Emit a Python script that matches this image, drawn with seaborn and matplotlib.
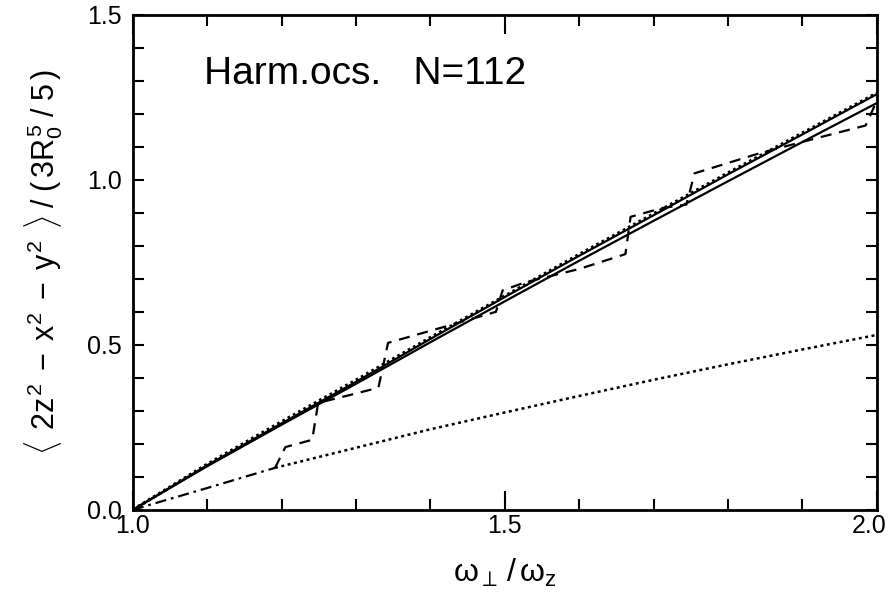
import matplotlib
matplotlib.use("Agg")
import matplotlib.pyplot as plt
import matplotlib.transforms as mtrans
import seaborn as sns
from matplotlib.ticker import MultipleLocator

# frequency ratio grid for the smooth curves
omega = [1.0, 1.1, 1.2, 1.3, 1.4, 1.5, 1.6, 1.7, 1.8, 1.9, 2.0]
q_upper = [0.0, 0.135, 0.262, 0.388, 0.518, 0.645, 0.770, 0.893, 1.017, 1.138, 1.260]
q_upper_dot = [0.0, 0.138, 0.267, 0.393, 0.522, 0.648, 0.774, 0.897, 1.021, 1.142, 1.263]
q_lower = [0.0, 0.132, 0.258, 0.382, 0.508, 0.632, 0.755, 0.876, 0.996, 1.115, 1.233]

# shell-structure curve (dashed)
omega_shell = [1.191, 1.205, 1.241, 1.249, 1.292, 1.330, 1.343, 1.427, 1.488, 1.497,
               1.528, 1.600, 1.662, 1.669, 1.712, 1.744, 1.755, 1.844, 1.925, 1.985, 1.998]
q_shell = [0.127, 0.190, 0.212, 0.324, 0.348, 0.370, 0.506, 0.560, 0.600, 0.665,
           0.690, 0.730, 0.775, 0.888, 0.915, 0.925, 1.020, 1.082, 1.130, 1.165, 1.230]

# low curve: dash-dot part then dotted part
omega_dd = [1.0, 1.1, 1.191]
q_dd = [0.0, 0.066, 0.127]
omega_dot = [1.191, 1.3, 1.4, 1.5, 1.6, 1.7, 1.8, 1.9, 2.0]
q_dot = [0.127, 0.188, 0.244, 0.295, 0.345, 0.394, 0.441, 0.486, 0.530]

x_ticks = [1.0, 1.5, 2.0]
y_ticks = [0.0, 0.5, 1.0, 1.5]

sns.set_theme(style="ticks")
plt.rcParams["font.family"] = ["Liberation Sans", "DejaVu Sans"]
plt.rcParams["mathtext.fontset"] = "custom"
plt.rcParams["mathtext.rm"] = "Liberation Sans"
plt.rcParams["mathtext.it"] = "Liberation Sans"
plt.rcParams["mathtext.sf"] = "Liberation Sans"

fig = plt.figure(figsize=(8.92, 5.99), dpi=100)
ax = fig.add_axes([0.149, 0.149, 0.834, 0.826])

kw = dict(color="black", estimator=None, sort=False, ax=ax, legend=False)
sns.lineplot(x=omega, y=q_upper, lw=1.6, **kw)
sns.lineplot(x=omega, y=q_upper_dot, lw=2.4, linestyle=(0, (0.8, 1.0)), **kw)
sns.lineplot(x=omega, y=q_lower, lw=1.6, **kw)
sns.lineplot(x=omega_shell, y=q_shell, lw=1.6, linestyle=(0, (5, 3.5)), **kw)
sns.lineplot(x=omega_dd, y=q_dd, lw=1.6, linestyle=(0, (5, 2.2, 1.2, 2.2)), **kw)
sns.lineplot(x=omega_dot, y=q_dot, lw=1.8, linestyle=(0, (1.2, 1.4)), **kw)

ax.set_xlim(1.0, 2.0)
ax.set_ylim(0.0, 1.5)
ax.set_xticks(x_ticks, labels=[f"{v:.1f}" for v in x_ticks])
ax.set_yticks(y_ticks, labels=[f"{v:.1f}" for v in y_ticks])
ax.xaxis.set_minor_locator(MultipleLocator(0.1))
ax.yaxis.set_minor_locator(MultipleLocator(0.1))

ax.tick_params(axis="both", which="both", direction="in", top=True, right=True,
               color="black", width=1.5, labelsize=18, labelcolor="black")
ax.tick_params(axis="x", which="major", length=14, pad=3)
ax.tick_params(axis="x", which="minor", length=8)
ax.tick_params(axis="y", which="major", length=8, pad=8)
ax.tick_params(axis="y", which="minor", length=8)
for sp in ax.spines.values():
    sp.set_visible(True)
    sp.set_linewidth(2)
    sp.set_color("black")

# keep the last x tick label inside the canvas
last = ax.get_xticklabels()[-1]
last.set_horizontalalignment("right")
last.set_transform(last.get_transform()
                   + mtrans.ScaledTranslation(0.10, 0, fig.dpi_scale_trans))

ax.set_xlabel(r"$\omega_{\perp}\,/\,\omega_{z}$", fontsize=23, labelpad=14, color="black")
ax.set_ylabel(r"$\langle\;\,2z^2\;-\;x^2\;-\;y^2\;\,\rangle\;/\;(\,3R_0^5\;/\;5\,)$",
              fontsize=22, labelpad=16, color="black")

ax.text(0.095, 0.88, "Harm.ocs.   N=112", transform=ax.transAxes, fontsize=28,
        color="black", ha="left", va="center")

fig.savefig("out.png", dpi=100, facecolor="white")
